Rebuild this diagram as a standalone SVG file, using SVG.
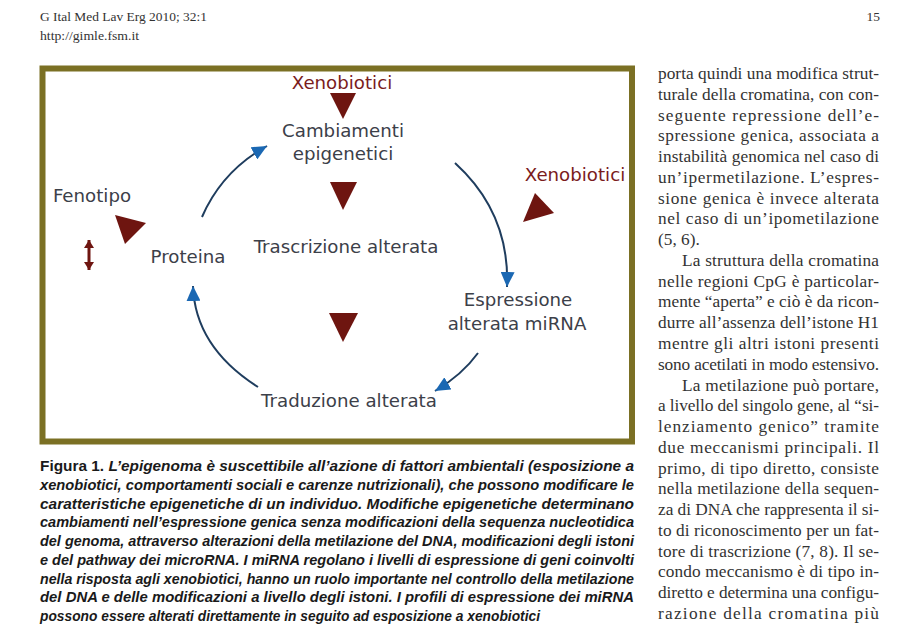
<svg xmlns="http://www.w3.org/2000/svg" width="900" height="634" viewBox="0 0 900 634">
<style>
  .hdr{font-family:"Liberation Serif","Times New Roman",serif;font-size:13.5px;fill:#333}
  .lbl{font-family:"DejaVu Sans",Verdana,sans-serif;font-size:18.2px;fill:#3c4049;text-anchor:middle}
  .xeno{font-family:"DejaVu Sans",Verdana,sans-serif;font-size:18.2px;fill:#7a1c1c;text-anchor:middle}
  .tri{fill:#6e1510}
  .arc{fill:none;stroke:#1f3d5e;stroke-width:2}
  .cap{font-family:"Liberation Sans",Arial,sans-serif;font-size:14.5px;font-weight:bold;font-style:italic;fill:#1a1a1a}
  .col{font-family:"Liberation Serif","Times New Roman",serif;font-size:17.3px;fill:#333}
</style>
<defs>
  <marker id="bh" markerUnits="userSpaceOnUse" markerWidth="16" markerHeight="14" refX="15" refY="7" orient="auto">
    <path d="M0,0 L15,7 L0,14 Z" fill="#1b68b3"/>
  </marker>
  <marker id="rh" markerUnits="userSpaceOnUse" markerWidth="10" markerHeight="10" refX="8" refY="5" orient="auto-start-reverse">
    <path d="M0,0 L8,5 L0,10 Z" fill="#6e1510"/>
  </marker>
</defs>
<rect width="900" height="634" fill="#ffffff"/>

<g id="header">
  <text class="hdr" x="40" y="21" textLength="167" lengthAdjust="spacingAndGlyphs">G Ital Med Lav Erg 2010; 32:1</text>
  <text class="hdr" x="40" y="40" textLength="99" lengthAdjust="spacingAndGlyphs">http://gimle.fsm.it</text>
  <text class="hdr" x="880" y="21" text-anchor="end">15</text>
</g>

<g id="frame">
  <rect x="42.5" y="68.5" width="589.5" height="373" fill="#ffffff" stroke="#7b7024" stroke-width="6"/>
</g>

<g id="xeno-top">
  <text class="xeno" x="342" y="89">Xenobiotici</text>
  <polygon class="tri" points="330,93 356,93 343,119"/>
</g>
<g id="cambiamenti">
  <text class="lbl" x="343" y="137">Cambiamenti</text>
  <text class="lbl" x="343" y="160">epigenetici</text>
</g>
<g id="tri-2"><polygon class="tri" points="330,182 357,182 343,210"/></g>
<g id="trascrizione">
  <text class="lbl" x="346" y="253">Trascrizione alterata</text>
</g>
<g id="tri-3"><polygon class="tri" points="329,313 358,313 343,342"/></g>
<g id="traduzione">
  <text class="lbl" x="349" y="407">Traduzione alterata</text>
</g>
<g id="espressione">
  <text class="lbl" x="518" y="306">Espressione</text>
  <text class="lbl" x="517" y="330">alterata miRNA</text>
</g>
<g id="proteina">
  <text class="lbl" x="188" y="263">Proteina</text>
</g>
<g id="fenotipo">
  <text class="lbl" x="92" y="202">Fenotipo</text>
  <polygon class="tri" points="115,215 146,223 125,244"/>
  <line x1="89" y1="240" x2="89" y2="270" stroke="#6e1510" stroke-width="3" marker-start="url(#rh)" marker-end="url(#rh)"/>
</g>
<g id="xeno-right">
  <text class="xeno" x="575" y="181">Xenobiotici</text>
  <polygon class="tri" points="523,222 535,193 554,213"/>
</g>

<g id="connectors">
  <path class="arc" d="M202,217 Q222,171 267,146" marker-end="url(#bh)"/>
  <path class="arc" d="M455,163 Q510,213 507,287" marker-end="url(#bh)"/>
  <path class="arc" d="M478,353 Q462,375 435,391" marker-end="url(#bh)"/>
  <path class="arc" d="M258,387 Q195,347 193,286" marker-end="url(#bh)"/>
</g>

<g id="caption">
  <text class="cap" x="40" y="471" textLength="594" lengthAdjust="spacingAndGlyphs"><tspan font-style="normal">Figura 1.</tspan> L’epigenoma è suscettibile all’azione di fattori ambientali (esposizione a</text>
  <text class="cap" x="40" y="489.75" textLength="594" lengthAdjust="spacingAndGlyphs">xenobiotici, comportamenti sociali e carenze nutrizionali), che possono modificare le</text>
  <text class="cap" x="40" y="508.5" textLength="594" lengthAdjust="spacingAndGlyphs">caratteristiche epigenetiche di un individuo. Modifiche epigenetiche determinano</text>
  <text class="cap" x="40" y="527.25" textLength="594" lengthAdjust="spacingAndGlyphs">cambiamenti nell’espressione genica senza modificazioni della sequenza nucleotidica</text>
  <text class="cap" x="40" y="546" textLength="594" lengthAdjust="spacingAndGlyphs">del genoma, attraverso alterazioni della metilazione del DNA, modificazioni degli istoni</text>
  <text class="cap" x="40" y="564.75" textLength="594" lengthAdjust="spacingAndGlyphs">e del pathway dei microRNA. I miRNA regolano i livelli di espressione di geni coinvolti</text>
  <text class="cap" x="40" y="583.5" textLength="594" lengthAdjust="spacingAndGlyphs">nella risposta agli xenobiotici, hanno un ruolo importante nel controllo della metilazione</text>
  <text class="cap" x="40" y="602.25" textLength="594" lengthAdjust="spacingAndGlyphs">del DNA e delle modificazioni a livello degli istoni. I profili di espressione dei miRNA</text>
  <text class="cap" x="40" y="621" textLength="500" lengthAdjust="spacingAndGlyphs">possono essere alterati direttamente in seguito ad esposizione a xenobiotici</text>
</g>

<g id="column">
  <text class="col" x="658" y="79" textLength="221" lengthAdjust="spacing">porta quindi una modifica strut-</text>
  <text class="col" x="658" y="99.77" textLength="221" lengthAdjust="spacing">turale della cromatina, con con-</text>
  <text class="col" x="658" y="120.54" textLength="221" lengthAdjust="spacing">seguente repressione dell’e-</text>
  <text class="col" x="658" y="141.31" textLength="221" lengthAdjust="spacing">spressione genica, associata a</text>
  <text class="col" x="658" y="162.08" textLength="221" lengthAdjust="spacing">instabilità genomica nel caso di</text>
  <text class="col" x="658" y="182.85" textLength="221" lengthAdjust="spacing">un’ipermetilazione. L’espres-</text>
  <text class="col" x="658" y="203.62" textLength="221" lengthAdjust="spacing">sione genica è invece alterata</text>
  <text class="col" x="658" y="224.39" textLength="221" lengthAdjust="spacing">nel caso di un’ipometilazione</text>
  <text class="col" x="658" y="245.16">(5, 6).</text>
  <text class="col" x="682" y="265.93" textLength="197" lengthAdjust="spacing">La struttura della cromatina</text>
  <text class="col" x="658" y="286.7" textLength="221" lengthAdjust="spacing">nelle regioni CpG è particolar-</text>
  <text class="col" x="658" y="307.47" textLength="221" lengthAdjust="spacing">mente “aperta” e ciò è da ricon-</text>
  <text class="col" x="658" y="328.24" textLength="221" lengthAdjust="spacing">durre all’assenza dell’istone H1</text>
  <text class="col" x="658" y="349.01" textLength="221" lengthAdjust="spacing">mentre gli altri istoni presenti</text>
  <text class="col" x="658" y="369.78" textLength="221" lengthAdjust="spacing">sono acetilati in modo estensivo.</text>
  <text class="col" x="682" y="390.55" textLength="197" lengthAdjust="spacing">La metilazione può portare,</text>
  <text class="col" x="658" y="411.32" textLength="221" lengthAdjust="spacing">a livello del singolo gene, al “si-</text>
  <text class="col" x="658" y="432.09" textLength="221" lengthAdjust="spacing">lenziamento genico” tramite</text>
  <text class="col" x="658" y="452.86" textLength="221" lengthAdjust="spacing">due meccanismi principali. Il</text>
  <text class="col" x="658" y="473.63" textLength="221" lengthAdjust="spacing">primo, di tipo diretto, consiste</text>
  <text class="col" x="658" y="494.4" textLength="221" lengthAdjust="spacing">nella metilazione della sequen-</text>
  <text class="col" x="658" y="515.17" textLength="221" lengthAdjust="spacing">za di DNA che rappresenta il si-</text>
  <text class="col" x="658" y="535.94" textLength="221" lengthAdjust="spacing">to di riconoscimento per un fat-</text>
  <text class="col" x="658" y="556.71" textLength="221" lengthAdjust="spacing">tore di trascrizione (7, 8). Il se-</text>
  <text class="col" x="658" y="577.48" textLength="221" lengthAdjust="spacing">condo meccanismo è di tipo in-</text>
  <text class="col" x="658" y="598.25" textLength="221" lengthAdjust="spacing">diretto e determina una configu-</text>
  <text class="col" x="658" y="619.02" textLength="221" lengthAdjust="spacing">razione della cromatina più</text>
</g>
</svg>
